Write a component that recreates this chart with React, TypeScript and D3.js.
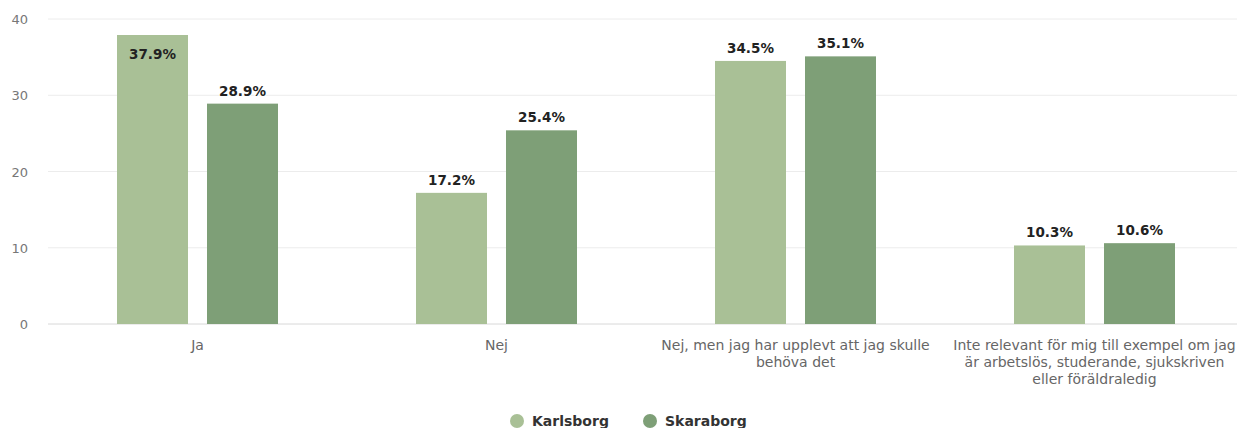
import React from "react";
import * as d3 from "d3";

const categories: string[][] = [
  ["Ja"],
  ["Nej"],
  ["Nej, men jag har upplevt att jag skulle", "behöva det"],
  ["Inte relevant för mig till exempel om jag", "är arbetslös, studerande, sjukskriven", "eller föräldraledig"],
];
const seriesNames = ["Karlsborg", "Skaraborg"];
const karlsborg = [37.9, 17.2, 34.5, 10.3];
const skaraborg = [28.9, 25.4, 35.1, 10.6];
const yTicks = [0, 10, 20, 30, 40];
const colors = ["#a9c096", "#7e9f77"];

export default function App() {
  const W = 1237, H = 428;
  const left = 48, right = 1244, top = 19, bottom = 324;
  const x0 = d3.scaleBand<number>().domain(d3.range(categories.length)).range([left, right]);
  const y = d3.scaleLinear().domain([0, 40]).range([bottom, top]);
  const barW = 71, gap = 19;
  const series = [karlsborg, skaraborg];
  const font = "'DejaVu Sans', Verdana, sans-serif";
  return (
    <svg width={W} height={H} style={{ position: "absolute", left: 0, top: 0, background: "#fff" }} fontFamily={font}>
      {yTicks.map((t) => (
        <g key={t}>
          <line x1={left} x2={W} y1={y(t)} y2={y(t)} stroke={t === 0 ? "#d8d8d8" : "#ececec"} strokeWidth={1} />
          <text x={28} y={y(t) + 5} textAnchor="end" fontSize={13} fill="#777">{t}</text>
        </g>
      ))}
      {series.map((vals, si) =>
        vals.map((v, i) => {
          const cx = x0(i)! + x0.bandwidth() / 2;
          const bx = cx - gap / 2 - barW + si * (barW + gap);
          const by = y(v);
          const inside = v > 36;
          return (
            <g key={si + "-" + i}>
              <rect x={bx} y={by} width={barW} height={bottom - by} fill={colors[si]} />
              <text x={bx + barW / 2} y={inside ? by + 24 : by - 8} textAnchor="middle" fontSize={13.5} fontWeight="bold" fill="#222"
                stroke="#fff" strokeWidth={inside ? 0 : 2} paintOrder="stroke">{v.toFixed(1)}%</text>
            </g>
          );
        })
      )}
      {categories.map((lines, i) => {
        const cx = x0(i)! + x0.bandwidth() / 2;
        return (
          <text key={i} textAnchor="middle" fontSize={14} fill="#666">
            {lines.map((l, j) => (
              <tspan key={j} x={cx} y={350 + j * 17}>{l}</tspan>
            ))}
          </text>
        );
      })}
      {seriesNames.map((n, i) => {
        const lx = 517 + i * 133;
        return (
          <g key={n}>
            <circle cx={lx} cy={421} r={7} fill={colors[i]} />
            <text x={lx + 15} y={426} fontSize={14} fontWeight="bold" fill="#333">{n}</text>
          </g>
        );
      })}
    </svg>
  );
}
